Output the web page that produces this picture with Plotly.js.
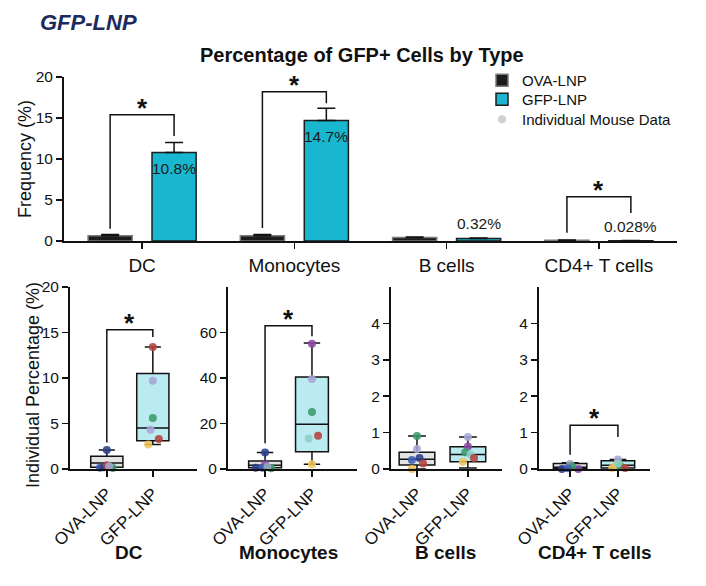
<!DOCTYPE html>
<html>
<head>
<meta charset="utf-8">
<script src="https://cdn.plot.ly/plotly-3.0.1.min.js"></script>
<style>html,body{margin:0;padding:0;background:#fff;}#chart{width:706px;height:586px;}</style>
</head>
<body>
<div id="chart"></div>
<script>
// ---------- Top chart data ----------
const categories = ['DC', 'Monocytes', 'B cells', 'CD4+ T cells'];
const ovaMean = [0.65, 0.65, 0.42, 0.10];
const ovaErr = [0.15, 0.15, 0.07, 0.03];
const gfpMean = [10.8, 14.7, 0.32, 0.028];
const gfpErr = [1.2, 1.5, 0.06, 0.02];
const gfpLabels = ['10.8%', '14.7%', '0.32%', '0.028%'];
const gfpLabelInside = [true, true, false, false];
const topBracketLeft = [1.5, 1.6, null, 1.0];
const topBracketTop = [15.4, 18.2, null, 5.4];
const topBracketRight = [12.8, 16.8, null, 3.4];

// ---------- Bottom panels data ----------
const groups = ['OVA-LNP', 'GFP-LNP'];
const panelTitles = ['DC', 'Monocytes', 'B cells', 'CD4+ T cells'];

// individual mouse values
const dcOva = [2.1, 0.15, 0.2, 0.4, 0.1, 0.3];
const dcGfp = [13.4, 9.7, 5.6, 4.3, 3.3, 2.7];
const monoOva = [7.3, 2.0, 0.5, 0.3, 0.6, 1.0];
const monoGfp = [55.0, 39.6, 25.1, 14.6, 13.4, 2.1];
const bOva = [0.91, 0.55, 0.25, 0.30, 0.15, 0.0];
const bGfp = [0.88, 0.62, 0.46, 0.40, 0.30, 0.20];
const cd4Ova = [0.0, 0.14, 0.0, 0.06, 0.02];
const cd4Gfp = [0.26, 0.03, 0.10, 0.08, 0.03, 0.15];

// box statistics [lowerfence, q1, median, q3, upperfence]
const dcOvaBox = [0.1, 0.2, 0.65, 1.4, 2.1];
const dcGfpBox = [2.7, 3.1, 4.5, 10.5, 13.4];
const monoOvaBox = [0.3, 0.6, 1.6, 3.5, 7.3];
const monoGfpBox = [2.1, 7.6, 19.7, 40.4, 55.4];
const bOvaBox = [0.0, 0.11, 0.27, 0.46, 0.91];
const bGfpBox = [0.03, 0.2, 0.4, 0.61, 0.88];
const cd4OvaBox = [0.0, 0.01, 0.05, 0.15, 0.17];
const cd4GfpBox = [0.02, 0.03, 0.10, 0.23, 0.26];

// significance brackets per panel [leftBottom, top, rightBottom]
const bottomBrackets = [[2.9, 15.3, 14.5], [11.3, 63, 58.4], null, [0.39, 1.2, 0.88]];

// ---------- styling ----------
const C = {navy:'#2a3d8c', blue:'#3f5cb5', red:'#b4423d', green:'#3a9a6a', lav:'#a6a6d4',
           yel:'#efc35a', pur:'#8c48a8', teal:'#8dcfc5', gray:'#97a8b8'};
const dcOvaCol = [C.navy, C.blue, C.navy, C.red, C.green, C.lav];
const dcGfpCol = [C.red, C.lav, C.green, C.lav, C.red, C.yel];
const monoOvaCol = [C.navy, C.pur, C.navy, C.green, C.blue, C.gray];
const monoGfpCol = [C.pur, C.lav, C.green, C.red, C.teal, C.yel];
const bOvaCol = [C.green, C.lav, C.blue, C.navy, C.red, C.yel];
const bGfpCol = [C.lav, C.pur, C.green, C.teal, C.red, C.yel];
const cd4OvaCol = [C.navy, C.gray, C.pur, C.green, C.blue];
const cd4GfpCol = [C.lav, C.yel, C.yel, C.green, C.red, C.teal];
const dcOvaJit = [0, -0.15, -0.07, 0, 0.13, 0.05];
const dcGfpJit = [0, 0, 0, -0.05, 0.13, -0.1];
const monoOvaJit = [0, 0, -0.2, 0.13, -0.05, 0.05];
const monoGfpJit = [0, 0, 0, 0.13, -0.07, 0];
const bOvaJit = [0, 0, -0.1, 0.05, 0.12, -0.1];
const bGfpJit = [0, 0, -0.05, 0.05, 0.12, -0.1];
const cd4OvaJit = [-0.17, 0, 0.17, 0.05, -0.05];
const cd4GfpJit = [0, -0.12, -0.04, 0.05, 0.15, 0];

const FONT = 'Liberation Sans, Arial, Helvetica, sans-serif';
const W = 706, H = 586;
const px = v => v / W;
const py = v => 1 - v / H;
const bargap = 0.16, bargroupgap = 0.31;
const barOffset = (1 - bargap) / 4;

const panels = [
  {ova: dcOva, gfp: dcGfp, ovaBox: dcOvaBox, gfpBox: dcGfpBox, ovaCol: dcOvaCol, gfpCol: dcGfpCol, ovaJit: dcOvaJit, gfpJit: dcGfpJit,
   dom: [70, 197], xr: [-0.8, 1.96], yr: [0, 20], tv: [0, 5, 10, 15, 20], tx: 129},
  {ova: monoOva, gfp: monoGfp, ovaBox: monoOvaBox, gfpBox: monoGfpBox, ovaCol: monoOvaCol, gfpCol: monoGfpCol, ovaJit: monoOvaJit, gfpJit: monoGfpJit,
   dom: [228, 357], xr: [-0.79, 1.96], yr: [0, 80], tv: [0, 20, 40, 60], tx: 288},
  {ova: bOva, gfp: bGfp, ovaBox: bOvaBox, gfpBox: bGfpBox, ovaCol: bOvaCol, gfpCol: bGfpCol, ovaJit: bOvaJit, gfpJit: bGfpJit,
   dom: [391, 502], xr: [-0.51, 1.67], yr: [0, 5], tv: [0, 1, 2, 3, 4], tx: 445},
  {ova: cd4Ova, gfp: cd4Gfp, ovaBox: cd4OvaBox, gfpBox: cd4GfpBox, ovaCol: cd4OvaCol, gfpCol: cd4GfpCol, ovaJit: cd4OvaJit, gfpJit: cd4GfpJit,
   dom: [539, 650], xr: [-0.65, 1.67], yr: [0, 5], tv: [0, 1, 2, 3, 4], tx: 595}
];

const traces = [];
const xIdx = categories.map((c, i) => i);

traces.push({
  type: 'bar', name: 'OVA-LNP', x: xIdx, y: ovaMean, xaxis: 'x', yaxis: 'y', legend: 'legend',
  marker: {color: '#1c1c1c', line: {color: '#7a7a7a', width: 1.5}},
  error_y: {type: 'data', symmetric: false, array: ovaErr, arrayminus: ovaErr.map(() => 0), color: '#111', thickness: 1.5, width: 9}
});
traces.push({
  type: 'bar', name: 'GFP-LNP', x: xIdx, y: gfpMean, xaxis: 'x', yaxis: 'y', legend: 'legend2',
  marker: {color: '#19b6cf', line: {color: '#1d1d1d', width: 1.5}},
  error_y: {type: 'data', symmetric: false, array: gfpErr, arrayminus: gfpErr.map(() => 0), color: '#111', thickness: 1.5, width: 9}
});
traces.push({
  type: 'scatter', mode: 'markers', name: 'Individual Mouse Data', x: [null], y: [null], xaxis: 'x', yaxis: 'y',
  legend: 'legend3', marker: {color: '#d0d0d0', size: 8}
});

// top brackets
xIdx.forEach(i => {
  if (topBracketTop[i] == null) return;
  traces.push({
    type: 'scatter', mode: 'lines', showlegend: false, hoverinfo: 'skip', xaxis: 'x', yaxis: 'y',
    x: [i - barOffset, i - barOffset, i + barOffset, i + barOffset],
    y: [topBracketLeft[i], topBracketTop[i], topBracketTop[i], topBracketRight[i]],
    line: {color: '#111', width: 1.5}
  });
});

const legendStyle = top => ({x: px(482), y: py(top), xanchor: 'left', yanchor: 'top', bgcolor: 'rgba(0,0,0,0)',
  font: {size: 15, family: FONT, color: '#111'}});

const annotations = [];
const layout = {
  width: W, height: H, margin: {l: 0, r: 0, t: 0, b: 0},
  paper_bgcolor: '#fff', plot_bgcolor: 'rgba(0,0,0,0)',
  font: {family: FONT, color: '#111'},
  barmode: 'group', bargap: bargap, bargroupgap: bargroupgap,
  showlegend: true,
  legend: legendStyle(64),
  legend2: legendStyle(83),
  legend3: legendStyle(103),
  xaxis: {domain: [px(64), px(677)], range: [-0.513, 3.513], tickvals: xIdx, ticktext: categories,
          ticks: 'outside', ticklen: 6, tickwidth: 1.5, tickcolor: '#111', showline: true, linewidth: 2, linecolor: '#111',
          showgrid: false, zeroline: false, tickfont: {size: 19, family: FONT, color: '#111'}, anchor: 'y'},
  yaxis: {domain: [py(241), py(77)], range: [0, 20], tickvals: [0, 5, 10, 15, 20],
          ticks: 'outside', ticklen: 6, tickwidth: 1.5, tickcolor: '#111', showline: true, linewidth: 2, linecolor: '#111',
          showgrid: false, zeroline: false, tickfont: {size: 15.5, family: FONT, color: '#111'}, anchor: 'x'},
  annotations: annotations
};

// bar labels
xIdx.forEach(i => {
  annotations.push({
    xref: 'x', yref: 'y', x: i + barOffset, y: gfpMean[i], text: gfpLabels[i], showarrow: false,
    xanchor: 'center', yanchor: gfpLabelInside[i] ? 'top' : 'bottom', yshift: gfpLabelInside[i] ? -6 : 4,
    font: {size: 15.5, family: FONT, color: '#1a1a1a'}
  });
  if (topBracketTop[i] != null) {
    annotations.push({xref: 'x', yref: 'y', x: i, y: topBracketTop[i], text: '<b>*</b>', showarrow: false,
      xanchor: 'center', yanchor: 'bottom', yshift: -10, font: {size: 26, family: FONT, color: '#111'}});
  }
});

// bottom panels
panels.forEach((p, k) => {
  const n = k + 2;
  const xa = 'x' + n, ya = 'y' + n;
  const fills = ['#e3e3e3', '#b9ebf1'];
  [p.ovaBox, p.gfpBox].forEach((b, g) => {
    traces.push({
      type: 'box', x: [g], lowerfence: [b[0]], q1: [b[1]], median: [b[2]], q3: [b[3]], upperfence: [b[4]],
      xaxis: xa, yaxis: ya, showlegend: false, boxpoints: false, width: 0.7, whiskerwidth: 0.5,
      fillcolor: fills[g], line: {color: '#111', width: 1.5}, hoverinfo: 'skip'
    });
  });
  [[p.ova, p.ovaCol, p.ovaJit], [p.gfp, p.gfpCol, p.gfpJit]].forEach((d, g) => {
    traces.push({
      type: 'scatter', mode: 'markers', xaxis: xa, yaxis: ya, showlegend: false,
      x: d[0].map((v, i) => g + d[2][i]), y: d[0], cliponaxis: false,
      marker: {color: d[1], size: 8, opacity: 0.88}
    });
  });
  const br = bottomBrackets[k];
  if (br) {
    traces.push({
      type: 'scatter', mode: 'lines', xaxis: xa, yaxis: ya, showlegend: false, hoverinfo: 'skip',
      x: [0, 0, 1, 1], y: [br[0], br[1], br[1], br[2]], line: {color: '#111', width: 1.5}
    });
    annotations.push({xref: xa, yref: ya, x: 0.5, y: br[1], text: '<b>*</b>', showarrow: false,
      xanchor: 'center', yanchor: 'bottom', yshift: -10, font: {size: 26, family: FONT, color: '#111'}});
  }
  layout['xaxis' + n] = {domain: [px(p.dom[0]), px(p.dom[1])], range: p.xr, tickvals: [0, 1], ticktext: groups,
    tickangle: -45, ticks: 'outside', ticklen: 6, tickwidth: 1.5, tickcolor: '#111', showline: true, linewidth: 2,
    linecolor: '#111', showgrid: false, zeroline: false, anchor: ya, tickfont: {size: 17, family: FONT, color: '#111'}};
  layout['yaxis' + n] = {domain: [py(469), py(287)], range: p.yr, tickvals: p.tv,
    ticks: 'outside', ticklen: 6, tickwidth: 1.5, tickcolor: '#111', showline: true, linewidth: 2, linecolor: '#111',
    showgrid: false, zeroline: false, anchor: xa, tickfont: {size: 15.5, family: FONT, color: '#111'}};
  annotations.push({xref: 'paper', yref: 'paper', x: px(p.tx), y: py(552),
    xanchor: 'center', yanchor: 'middle',
    text: '<b>' + panelTitles[k] + '</b>', showarrow: false, font: {size: 19, family: FONT, color: '#111'}});
});

// titles
annotations.push({xref: 'paper', yref: 'paper', x: px(362), y: py(55), xanchor: 'center', yanchor: 'middle',
  text: '<b>Percentage of GFP+ Cells by Type</b>', showarrow: false, font: {size: 20, family: FONT, color: '#111'}});
annotations.push({xref: 'paper', yref: 'paper', x: px(38), y: py(22), xanchor: 'left', yanchor: 'middle',
  text: '<b><i>GFP-LNP</i></b>', showarrow: false, font: {size: 22, family: FONT, color: '#1c2a5e'}});
annotations.push({xref: 'paper', yref: 'paper', x: px(25), y: py(159), xanchor: 'center', yanchor: 'middle',
  text: 'Frequency (%)', textangle: -90, showarrow: false, font: {size: 18, family: FONT, color: '#111'}});
annotations.push({xref: 'paper', yref: 'paper', x: px(33), y: py(385), xanchor: 'center', yanchor: 'middle',
  text: 'Individual Percentage (%)', textangle: -90, showarrow: false, font: {size: 18, family: FONT, color: '#111'}});

Plotly.newPlot('chart', traces, layout, {displayModeBar: false, staticPlot: true});
</script>
</body>
</html>
